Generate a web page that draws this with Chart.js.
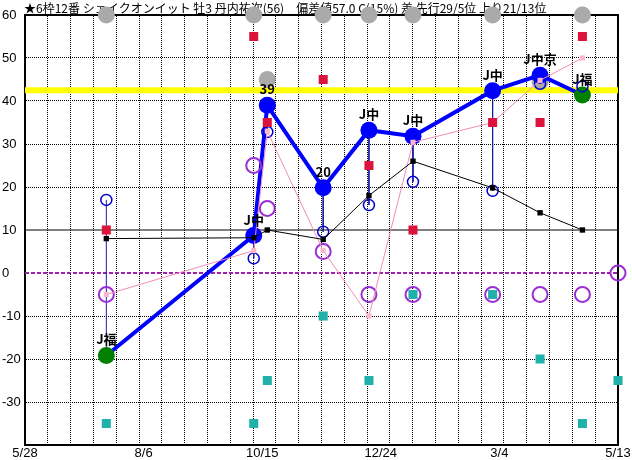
<!DOCTYPE html>
<html><head><meta charset="utf-8">
<script src="https://cdn.jsdelivr.net/npm/chart.js@4/dist/chart.umd.min.js"></script>
<style>html,body{margin:0;padding:0;background:#fff}#wrap{width:632px;height:460px;position:relative}</style>
</head><body><div id="wrap"><canvas id="c" width="632" height="460"></canvas></div>
<script>
const titleText = '★6枠12番 シェイクオンイット 牡3 丹内祐次(56)　偏差値57.0 C(15%) 差 先行29/5位 上り21/13位';
// x axis: days since 5/28
const tickDays = [0, 70, 140, 210, 280, 350];
const tickLabels = ['5/28', '8/6', '10/15', '12/24', '3/4', '5/13'];
const yTicks = [60, 50, 40, 30, 20, 10, 0, -10, -20, -30, -40];
const gridCount = 26;
// races
const raceDays = [48, 135, 143, 176, 203, 229, 276, 304, 329];
const raceLabels = ['J福', 'J中', '39', '20', 'J中', 'J中', 'J中', 'J中京', 'J福'];
const ratingVals = [-19.2, 8.7, 39.0, 19.8, 33.2, 31.8, 42.4, 46.0, 41.4];
const ratingColors = ['#008000', '#0000ff', '#0000ff', '#0000ff', '#0000ff', '#0000ff', '#0000ff', '#0000ff', '#008000'];
const rangeVals = [17.0, 3.4, 32.8, 9.6, 15.8, 21.2, 19.1, 44.0, 43.4];
const blackVals = [8, 8.2, 10, 7.8, 18, 26, 19.8, 14, 10];
const pinkVals = [-5, 5.2, 33, 5.2, -10, 30.4, 35, 44.8, 50];
const redVals = [10, 55, 35, 45, 25, 10, 35, 35, 55];
const grayVals = [60, 60, 45, 60, 60, 60, 60, 44.5, 60];
const markDays = [48, 135, 143, 176, 203, 229, 276, 304, 329, 350];
const purpleVals = [-5, 25, 15, 5, -5, -5, -5, -5, -5, 0];
const tealVals = [-35, -35, -25, -10, -25, -5, -5, -20, -35, -25];
const yellowLevel = 42.5;
const tenLevel = 10;
const zeroLevel = 0;

const pts = (days, vals) => days.map((d, i) => ({x: d, y: vals[i]}));
const flat = (v) => [{x: tickDays[0], y: v}, {x: tickDays[tickDays.length - 1], y: v}];
const rangeData = [];
raceDays.forEach((d, i) => {
  rangeData.push({x: d, y: ratingVals[i]}, {x: d, y: rangeVals[i]}, {x: d, y: null});
});
const xMin = tickDays[0], xMax = tickDays[tickDays.length - 1];
const yMin = yTicks[yTicks.length - 1], yMax = yTicks[0];
const gridDays = [];
for (let k = 1; k < gridCount; k++) gridDays.push(xMin + (xMax - xMin) * k / gridCount);

// dotted grid drawn from the chart's own scales
const dottedGrid = {
  id: 'dottedGrid',
  beforeDatasetsDraw(chart) {
    const {ctx, chartArea: a, scales} = chart;
    const sx = scales.x, sy = scales.y;
    ctx.save();
    ctx.lineWidth = 1;
    ctx.strokeStyle = '#000000';
    ctx.setLineDash([1, 1]);
    ctx.beginPath();
    gridDays.forEach(d => {
      const px = Math.floor(sx.getPixelForValue(d)) + 0.5;
      ctx.moveTo(px, Math.ceil(a.top) + 1);
      ctx.lineTo(px, Math.floor(a.bottom) - 1);
    });
    yTicks.forEach(v => {
      if (v === yMax || v === yMin || v === zeroLevel || v === tenLevel) return;
      const py = Math.floor(sy.getPixelForValue(v)) + 0.5;
      ctx.moveTo(Math.ceil(a.left) + 1, py);
      ctx.lineTo(Math.floor(a.right) - 1, py);
    });
    ctx.stroke();
    ctx.restore();
  }
};
const titlePlugin = {
  id: 'topTitle',
  beforeDatasetsDraw(chart) {
    const ctx = chart.ctx;
    ctx.save();
    ctx.font = '12px "Noto Sans CJK JP", sans-serif';
    ctx.fillStyle = '#000';
    ctx.textBaseline = 'middle';
    ctx.textAlign = 'left';
    ctx.fillText(titleText, chart.chartArea.left - 1, 8);
    ctx.restore();
  }
};
const pointLabels = {
  id: 'pointLabels',
  afterDatasetsDraw(chart) {
    const idx = chart.data.datasets.findIndex(d => d.label === 'rating');
    const meta = chart.getDatasetMeta(idx);
    const ctx = chart.ctx;
    ctx.save();
    ctx.font = 'bold 13px "Noto Sans CJK JP", sans-serif';
    ctx.fillStyle = '#000';
    ctx.textAlign = 'center';
    ctx.textBaseline = 'middle';
    meta.data.forEach((p, i) => {
      ctx.fillText(raceLabels[i], p.x, p.y - 16);
    });
    ctx.restore();
  }
};

new Chart(document.getElementById('c'), {
  type: 'line',
  data: {
    datasets: [
      {label: 'yellow', data: flat(yellowLevel), borderColor: '#ffff00', borderWidth: 6, pointRadius: 0, order: 100},
      {label: 'ten', data: flat(tenLevel), borderColor: '#000', borderWidth: 1, pointRadius: 0, order: 99},
      {label: 'zero', data: flat(zeroLevel), borderColor: '#a020b0', borderWidth: 2, borderDash: [4, 2], pointRadius: 0, order: 98},
      {label: 'gray', type: 'scatter', data: pts(raceDays, grayVals), pointRadius: 8.5, pointBackgroundColor: '#aaaaaa', pointBorderWidth: 0, clip: false, order: 97},
      {label: 'range', data: rangeData, borderColor: '#1c1ca8', borderWidth: 1, pointRadius: 0, spanGaps: false, order: 96},
      {label: 'rating', data: pts(raceDays, ratingVals), borderColor: '#0000ff', borderWidth: 4, pointRadius: 8.5, pointBackgroundColor: ratingColors, pointBorderColor: ratingColors, pointBorderWidth: 0, clip: false, order: 95},
      {label: 'open', type: 'scatter', data: pts(raceDays, rangeVals), pointRadius: 5.5, pointBorderWidth: 1.5, pointBorderColor: '#0000d0', pointBackgroundColor: 'rgba(0,0,0,0)', clip: false, order: 94},
      {label: 'teal', type: 'scatter', data: pts(markDays, tealVals), pointStyle: 'rect', pointRadius: 6.4, pointBackgroundColor: '#20b2aa', pointBorderWidth: 0, clip: false, order: 93},
      {label: 'purple', type: 'scatter', data: pts(markDays, purpleVals), pointRadius: 7.5, pointBorderWidth: 2, pointBorderColor: '#9a2ed4', pointBackgroundColor: 'rgba(0,0,0,0)', clip: false, order: 92},
      {label: 'pink', data: pts(raceDays, pinkVals), borderColor: '#f28cba', borderWidth: 1, pointStyle: 'rect', pointRadius: 3.6, pointBackgroundColor: '#ffb6c8', pointBorderWidth: 0, clip: false, order: 91},
      {label: 'red', type: 'scatter', data: pts(raceDays, redVals), pointStyle: 'rect', pointRadius: 6.4, pointBackgroundColor: '#dc143c', pointBorderWidth: 0, clip: false, order: 90},
      {label: 'black', data: pts(raceDays, blackVals), borderColor: '#000', borderWidth: 1, pointStyle: 'rect', pointRadius: 3.8, pointBackgroundColor: '#000', pointBorderWidth: 0, clip: false, order: 89}
    ]
  },
  options: {
    responsive: false,
    animation: false,
    events: [],
    layout: {padding: {left: 2, right: 14, top: 15, bottom: 0}},
    plugins: {legend: {display: false}, tooltip: {enabled: false}, title: {display: false}},
    scales: {
      x: {
        type: 'linear', position: 'bottom', min: xMin, max: xMax,
        afterBuildTicks: s => { s.ticks = tickDays.map(v => ({value: v})); },
        ticks: {autoSkip: false, maxRotation: 0, padding: 1, color: '#000', font: {family: '"Liberation Sans", sans-serif', size: 13},
          callback: (v, i) => tickLabels[i]},
        grid: {display: false, drawTicks: false},
        border: {display: true, color: '#000', width: 2},
        afterFit: s => { s.height = 15; }
      },
      x2: {
        type: 'linear', position: 'top', min: xMin, max: xMax,
        ticks: {display: false},
        grid: {display: false, drawTicks: false},
        border: {display: true, color: '#000', width: 2},
        afterFit: s => { s.height = 0; }
      },
      y: {
        type: 'linear', position: 'left', min: yMin, max: yMax,
        afterBuildTicks: s => { s.ticks = yTicks.map(v => ({value: v})); },
        ticks: {crossAlign: 'far', padding: 0, color: '#000', font: {family: '"Liberation Sans", sans-serif', size: 13},
          callback: v => (v === yMin ? '' : String(v))},
        grid: {display: false, drawTicks: false},
        border: {display: true, color: '#000', width: 2},
        afterFit: s => { s.width = 23; }
      },
      y2: {
        type: 'linear', position: 'right', min: yMin, max: yMax,
        ticks: {display: false},
        grid: {display: false, drawTicks: false},
        border: {display: true, color: '#000', width: 2},
        afterFit: s => { s.width = 0; }
      }
    }
  },
  plugins: [dottedGrid, titlePlugin, pointLabels]
});
</script>
</body></html>
